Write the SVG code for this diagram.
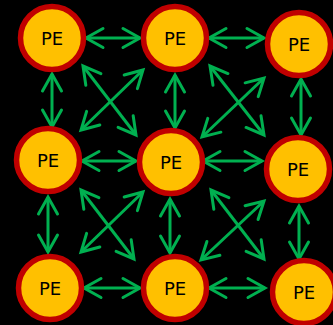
<svg xmlns="http://www.w3.org/2000/svg" width="333" height="325" viewBox="0 0 333 325">
<defs>
<marker id="ah" markerUnits="userSpaceOnUse" markerWidth="24" markerHeight="24" viewBox="-20 -12 24 24" refX="0" refY="0" orient="auto-start-reverse" overflow="visible">
<path d="M-17,-9.5 L0,0 L-17,9.5" fill="none" stroke="#00B050" stroke-width="3" stroke-linecap="round" stroke-linejoin="miter"/>
</marker>
<style>
.pe circle{fill:#FFC000;stroke:#C00000;stroke-width:5.5}
.pe text{font-family:"DejaVu Sans",Verdana,sans-serif;font-size:18px;fill:#000;text-anchor:middle}
#connectors line{stroke:#00B050;stroke-width:3;marker-start:url(#ah);marker-end:url(#ah)}
</style>
</defs>
<rect width="333" height="325" fill="#000"/>
<g id="connectors">
<line x1="86" y1="38" x2="140" y2="38"/>
<line x1="209" y1="38" x2="264" y2="38"/>
<line x1="82" y1="161" x2="136" y2="161"/>
<line x1="203" y1="161" x2="262" y2="161"/>
<line x1="84" y1="288" x2="140" y2="288"/>
<line x1="209" y1="288" x2="265" y2="288"/>
<line x1="52" y1="74" x2="52" y2="127"/>
<line x1="48" y1="197" x2="48" y2="252"/>
<line x1="175" y1="75" x2="175" y2="128"/>
<line x1="170" y1="199" x2="170" y2="253"/>
<line x1="301" y1="79" x2="301" y2="135"/>
<line x1="299" y1="206" x2="299" y2="259"/>
<line x1="83" y1="66" x2="136" y2="135"/>
<line x1="143" y1="70" x2="81" y2="130"/>
<line x1="210" y1="66" x2="264" y2="135"/>
<line x1="264" y1="78" x2="202" y2="137"/>
<line x1="81" y1="190" x2="134" y2="259"/>
<line x1="143" y1="192" x2="81" y2="252"/>
<line x1="211" y1="190" x2="264" y2="259"/>
<line x1="264" y1="201" x2="201" y2="260"/>
</g>
<g id="pe00" class="pe"><circle cx="52" cy="38" r="31.5"/><text x="52" y="45">PE</text></g>
<g id="pe01" class="pe"><circle cx="175" cy="38" r="31.5"/><text x="175" y="45">PE</text></g>
<g id="pe02" class="pe"><circle cx="299" cy="44" r="31.5"/><text x="299" y="51">PE</text></g>
<g id="pe10" class="pe"><circle cx="48" cy="160" r="31.5"/><text x="48" y="167">PE</text></g>
<g id="pe11" class="pe"><circle cx="171" cy="162" r="31.5"/><text x="171" y="169">PE</text></g>
<g id="pe12" class="pe"><circle cx="298" cy="169" r="31.5"/><text x="298" y="176">PE</text></g>
<g id="pe20" class="pe"><circle cx="50" cy="288" r="31.5"/><text x="50" y="295">PE</text></g>
<g id="pe21" class="pe"><circle cx="175" cy="288" r="31.5"/><text x="175" y="295">PE</text></g>
<g id="pe22" class="pe"><circle cx="304" cy="292" r="31.5"/><text x="304" y="299">PE</text></g>
</svg>
